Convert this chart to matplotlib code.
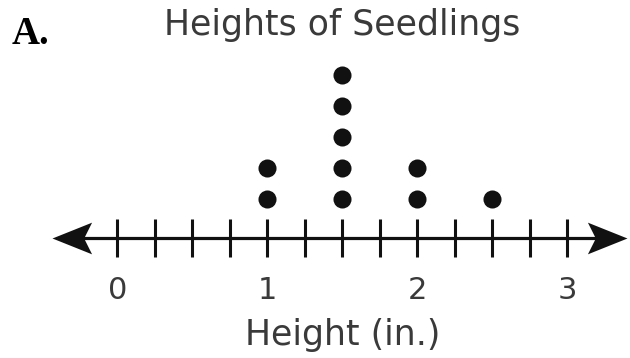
import matplotlib
matplotlib.use("Agg")
import matplotlib.pyplot as plt
import numpy as np
from matplotlib.path import Path
from matplotlib.ticker import FixedLocator
from matplotlib.transforms import blended_transform_factory

# data: seedling heights (in.) and how many seedlings had each height
heights = [1.0, 1.5, 2.0, 2.5]
counts = [2, 5, 2, 1]
tick_values = [0, 1, 2, 3]
tick_labels = ["0", "1", "2", "3"]

title = "Heights of Seedlings"
xlabel = "Height (in.)"
panel = "A."

text_color = "#3a3a3a"
axis_y = -0.27          # where the number line sits (in dot rows)
arrow_left, arrow_right = -0.437, 3.397

fig = plt.figure(figsize=(6.3, 3.58), dpi=100)
ax = fig.add_axes([0, 0, 1, 1])
ax.set_xlim(-0.783, 3.417)
ax.set_ylim(-4.13, 7.42)

# stacked dots
for h, c in zip(heights, counts):
    ax.plot([h] * c, range(1, c + 1), 'o', color='#111111', markersize=13, markeredgewidth=0)

# number line with stealth arrow heads
head = Path([(0, 0), (-1, 0.4), (-0.8, 0), (-1, -0.4), (0, 0)],
            [Path.MOVETO, Path.LINETO, Path.LINETO, Path.LINETO, Path.CLOSEPOLY])
head_left = Path([(-x, y) for x, y in head.vertices], head.codes)
ax.plot([arrow_left + 0.1, arrow_right - 0.1], [axis_y, axis_y], color='#111111', lw=2.3,
        solid_capstyle='butt')
ax.plot([arrow_right], [axis_y], marker=head, markersize=57, color='#111111', markeredgewidth=0)
ax.plot([arrow_left], [axis_y], marker=head_left, markersize=57, color='#111111', markeredgewidth=0)

# ticks on an invisible spine placed on the line
for s in ['top', 'right', 'left', 'bottom']:
    ax.spines[s].set_visible(False)
ax.spines['bottom'].set_position(('data', axis_y))
ax.set_yticks([])
ax.set_xticks(tick_values)
ax.set_xticklabels(tick_labels, fontsize=22, color=text_color)
ax.xaxis.set_minor_locator(FixedLocator(np.arange(0, 3.01, 0.25)))
ax.tick_params(axis='x', which='both', direction='inout', length=28, width=2.2, color='#111111')
ax.tick_params(axis='x', which='major', pad=13)

trans = blended_transform_factory(ax.transData, ax.transAxes)
ax.text(1.5, 0.902, title, transform=trans, ha='center', va='baseline', fontsize=25, color=text_color)
ax.text(1.5, 0.036, xlabel, transform=trans, ha='center', va='baseline', fontsize=25, color=text_color)
fig.text(0.019, 0.877, panel, ha='left', va='baseline', fontsize=28, fontweight='bold',
         family='Liberation Serif', color='black')

fig.savefig("out.png", dpi=100)
